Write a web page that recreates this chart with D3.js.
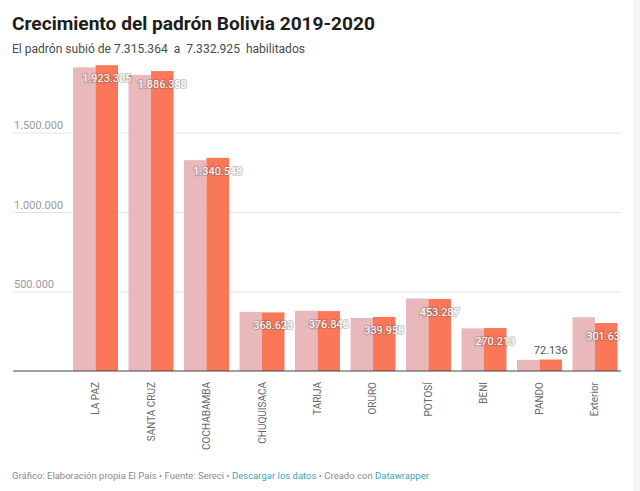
<!DOCTYPE html>
<html>
<head>
<meta charset="utf-8">
<script src="https://cdn.jsdelivr.net/npm/d3@7"></script>
<style>
  body { margin: 0; background: #fff; }
  svg { display: block; font-family: Roboto, "Noto Sans", sans-serif; }
</style>
</head>
<body>
<div class="chart"></div>
<script>
// departamentos
const categories = ['LA PAZ', 'SANTA CRUZ', 'COCHABAMBA', 'CHUQUISACA', 'TARIJA',
  'ORURO', 'POTOSÍ', 'BENI', 'PANDO', 'Exterior'];
// padrón 2019 (estimado del gráfico) y 2020
const padron2019 = [1910000, 1862000, 1326000, 372000, 379000, 334000, 456000, 268000, 70000, 338000];
const padron2020 = [1923305, 1886388, 1340548, 368623, 376846, 339958, 453287, 270213, 72136, 301631];
const yTicks = [500000, 1000000, 1500000];

const W = 640, H = 491;
const margin = { top: 53, right: 19, bottom: 120, left: 13 };
const baseY = 371;

const locale = d3.formatLocale({ decimal: ',', thousands: '.', grouping: [3], currency: ['', ''] });
const fmt = locale.format(',d');

const svg = d3.select('.chart').append('svg')
  .attr('width', W)
  .attr('height', H);

// gray strip at the right edge
svg.append('rect')
  .attr('x', 633).attr('y', 0)
  .attr('width', 7).attr('height', H)
  .attr('fill', '#f4f4f4');

// header
svg.append('text')
  .attr('x', 12).attr('y', 30)
  .attr('font-size', 19).attr('font-weight', 700)
  .attr('fill', '#1d1d1d')
  .attr('textLength', 363).attr('lengthAdjust', 'spacingAndGlyphs')
  .text('Crecimiento del padrón Bolivia 2019-2020');

svg.append('text')
  .attr('x', 12).attr('y', 53)
  .attr('font-size', 12.5)
  .attr('fill', '#4a4a4a')
  .attr('textLength', 293).attr('lengthAdjust', 'spacingAndGlyphs')
  .style('white-space', 'pre')
  .text('El padrón subió de 7.315.364  a  7.332.925  habilitados');

// scales
const x = d3.scaleBand()
  .domain(categories)
  .range([62.5, 628])
  .padding(0.19);

const sub = d3.scaleBand()
  .domain(['2019', '2020'])
  .range([0, x.bandwidth()]);

const y = d3.scaleLinear()
  .domain([0, 2000000])
  .range([baseY, margin.top]);

// gridlines + y labels
const grid = svg.append('g')
  .attr('transform', `translate(${margin.left},0)`)
  .call(d3.axisRight(y).tickValues(yTicks).tickSize(608).tickFormat(fmt));
grid.select('.domain').remove();
grid.selectAll('.tick line').attr('stroke', '#e3e3e3');
grid.selectAll('.tick text')
  .attr('x', 1).attr('dy', -4)
  .attr('fill', '#9a9a9a')
  .attr('font-size', 11)
  .attr('font-family', 'Roboto, sans-serif');

// bars
const groups = svg.append('g').selectAll('g')
  .data(categories)
  .join('g')
  .attr('transform', d => `translate(${x(d)},0)`);

groups.append('rect')
  .attr('x', sub('2019'))
  .attr('width', sub.bandwidth())
  .attr('y', (d, i) => y(padron2019[i]))
  .attr('height', (d, i) => baseY - y(padron2019[i]))
  .attr('fill', '#e9b8ba');

groups.append('rect')
  .attr('x', sub('2020'))
  .attr('width', sub.bandwidth())
  .attr('y', (d, i) => y(padron2020[i]))
  .attr('height', (d, i) => baseY - y(padron2020[i]))
  .attr('fill', '#fb775a');

// value labels, clipped at the chart edge
svg.append('clipPath').attr('id', 'plotclip')
  .append('rect').attr('x', 0).attr('y', 0).attr('width', 620).attr('height', H);

const labels = svg.append('g').attr('clip-path', 'url(#plotclip)');
categories.forEach((c, i) => {
  const h = baseY - y(padron2020[i]);
  const inside = h > 30;
  labels.append('text')
    .attr('x', x(c) + sub('2020') + sub.bandwidth() / 2)
    .attr('y', inside ? y(padron2020[i]) + 17 : y(padron2020[i]) - 6)
    .attr('text-anchor', 'middle')
    .attr('font-size', 11)
    .attr('fill', inside ? '#fff' : '#555')
    .attr('stroke', inside ? 'rgba(90,90,90,0.3)' : 'none')
    .attr('stroke-width', 2.5)
    .attr('paint-order', 'stroke')
    .text(fmt(padron2020[i]));
});

// x axis
const xAxis = svg.append('g')
  .attr('transform', `translate(0,${baseY})`)
  .call(d3.axisBottom(x).tickSize(0));
xAxis.select('.domain').remove();
xAxis.append('line')
  .attr('x1', 13).attr('x2', 621)
  .attr('stroke', '#444').attr('stroke-width', 1);
xAxis.selectAll('.tick text')
  .attr('transform', 'rotate(-90)')
  .attr('text-anchor', 'end')
  .attr('x', -11).attr('y', 0).attr('dy', '0.35em')
  .attr('fill', '#6a6a6a')
  .attr('font-size', 10)
  .attr('font-family', 'Roboto, sans-serif');

// footer
const foot = svg.append('text')
  .attr('x', 12).attr('y', 479)
  .attr('font-size', 9.5)
  .attr('fill', '#8a8a8a');
foot.append('tspan').text('Gráfico: Elaboración propia El País • Fuente: Sereci • ');
foot.append('tspan').attr('fill', '#3aa6ba').text('Descargar los datos');
foot.append('tspan').text(' • Creado con ');
foot.append('tspan').attr('fill', '#3aa6ba').text('Datawrapper');
</script>
</body>
</html>
